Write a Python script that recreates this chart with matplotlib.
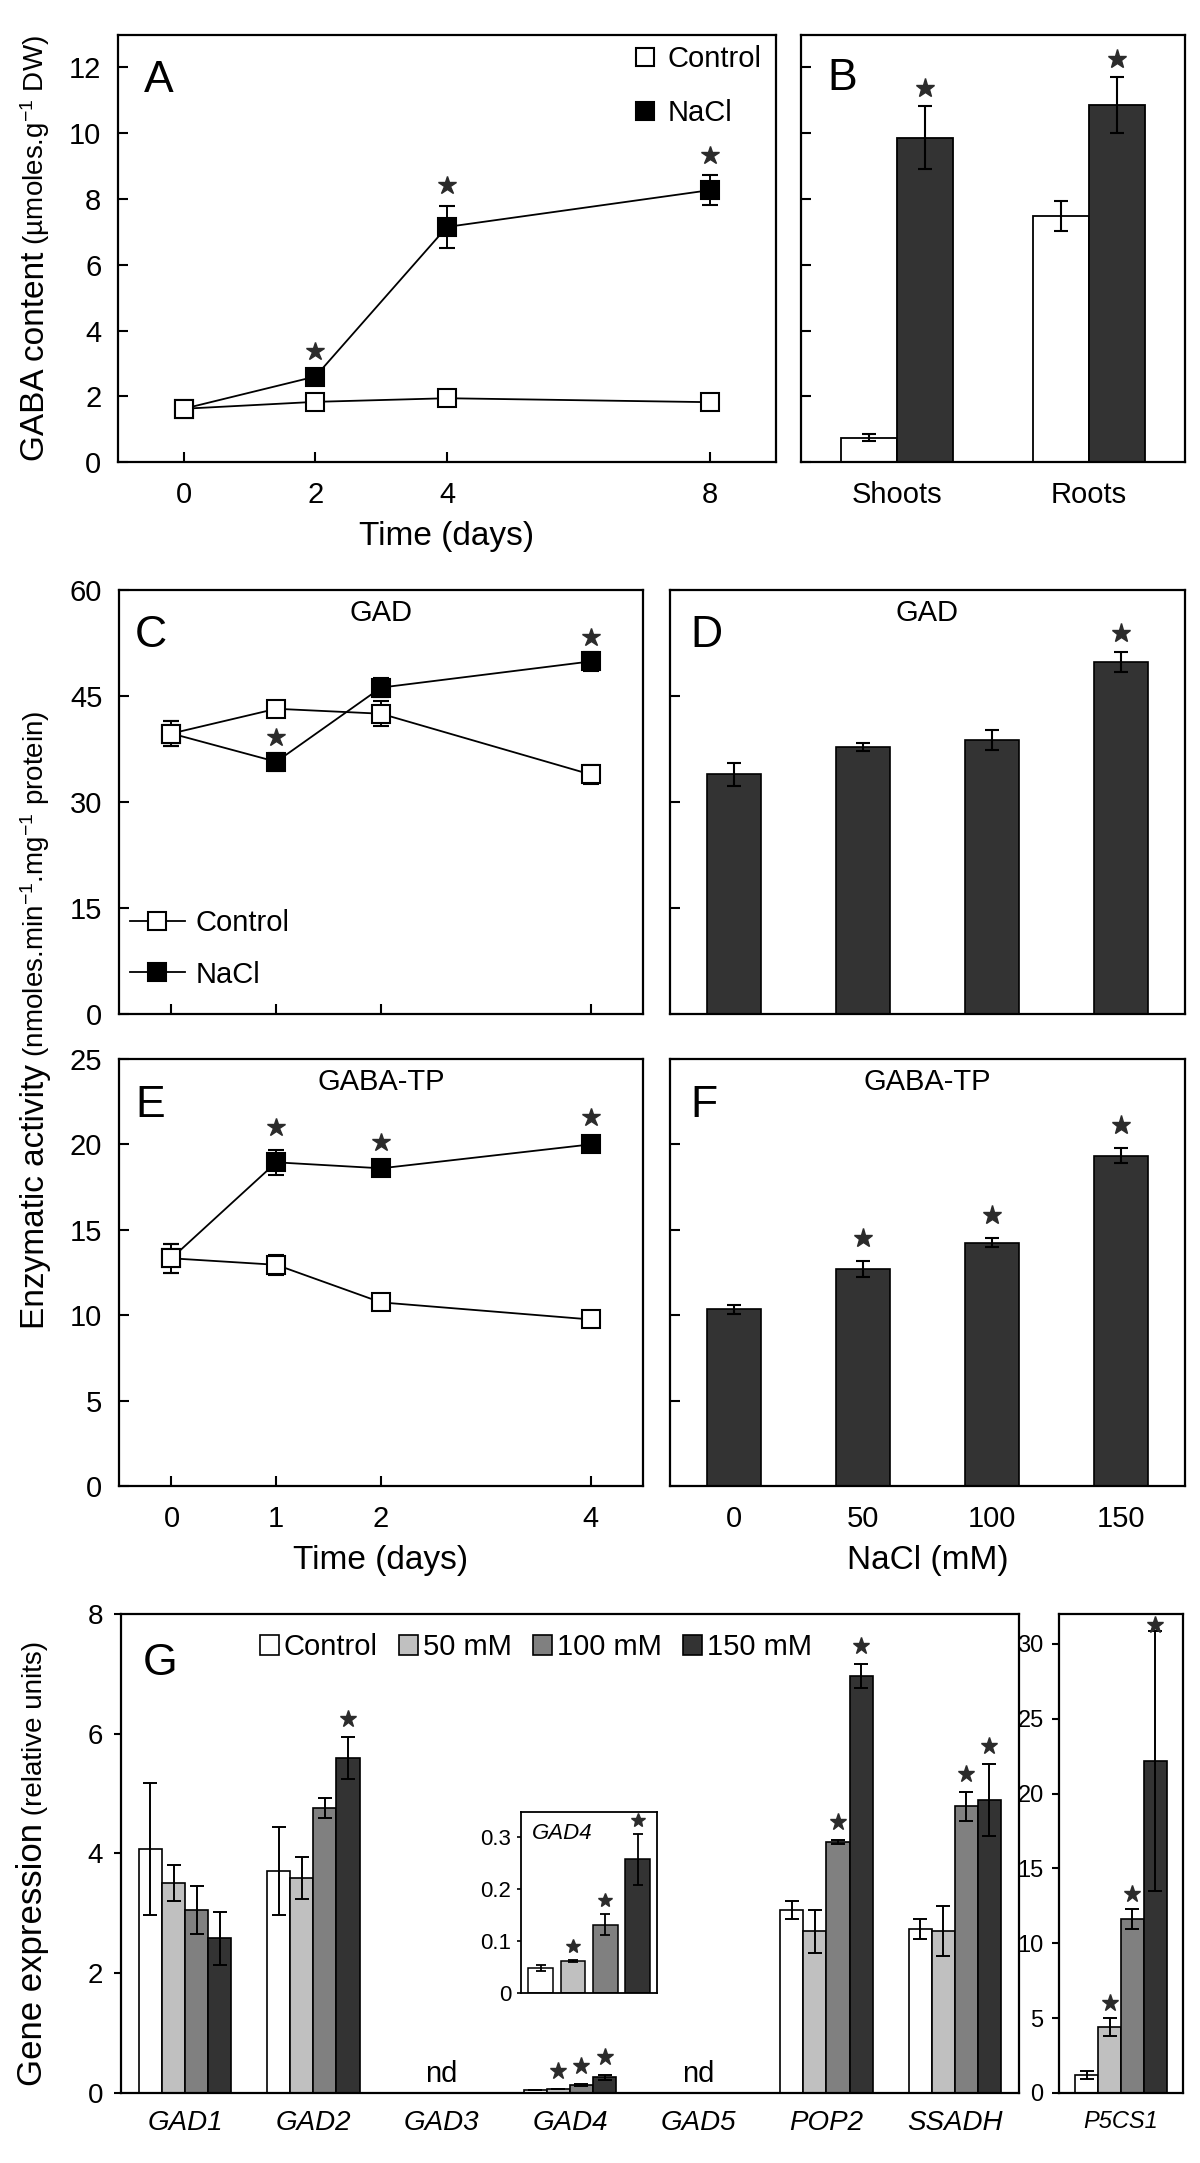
import numpy as np
import matplotlib
matplotlib.use("Agg")
import matplotlib.pyplot as plt
from matplotlib.lines import Line2D
from matplotlib.patches import Patch

plt.rcParams['font.family'] = ['Liberation Sans', 'DejaVu Sans']
plt.rcParams['mathtext.fontset'] = 'custom'
plt.rcParams['mathtext.rm'] = 'Liberation Sans'
plt.rcParams['mathtext.it'] = 'Liberation Sans:italic'
plt.rcParams['axes.linewidth'] = 1.5

# ---------------- data ----------------
# Panel A: GABA content over time
days_A = [0, 2, 4, 8]
gaba_ctrl = [1.62, 1.83, 1.94, 1.82]
gaba_ctrl_err = [0.10, 0.12, 0.12, 0.10]
gaba_nacl = [1.62, 2.60, 7.15, 8.27]
gaba_nacl_err = [0.10, 0.15, 0.65, 0.45]
sig_A = [False, True, True, True]

# Panel B: shoots / roots
organs = ["Shoots", "Roots"]
b_ctrl = [0.74, 7.48]
b_ctrl_err = [0.10, 0.45]
b_nacl = [9.87, 10.87]
b_nacl_err = [0.95, 0.85]
sig_B = [True, True]

# Panel C: GAD activity over time
days_CE = [0, 1, 2, 4]
gad_ctrl = [39.7, 43.2, 42.5, 33.9]
gad_ctrl_err = [1.8, 0.5, 1.8, 1.4]
gad_nacl = [39.7, 35.7, 46.2, 49.9]
gad_nacl_err = [1.8, 1.3, 1.4, 1.3]
sig_C = [False, True, False, True]

# Panel D: GAD activity vs NaCl dose
nacl_conc = ["0", "50", "100", "150"]
gad_dose = [33.9, 37.8, 38.8, 49.8]
gad_dose_err = [1.6, 0.6, 1.4, 1.4]
sig_D = [False, False, False, True]

# Panel E: GABA-TP activity over time
gabatp_ctrl = [13.33, 12.95, 10.75, 9.75]
gabatp_ctrl_err = [0.85, 0.6, 0.2, 0.15]
gabatp_nacl = [13.33, 18.95, 18.6, 20.0]
gabatp_nacl_err = [0.85, 0.75, 0.25, 0.3]
sig_E = [False, True, True, True]

# Panel F: GABA-TP activity vs NaCl dose
gabatp_dose = [10.35, 12.7, 14.25, 19.35]
gabatp_dose_err = [0.27, 0.45, 0.25, 0.42]
sig_F = [False, True, True, True]

# Panel G: gene expression
genes = ["GAD1", "GAD2", "GAD3", "GAD4", "GAD5", "POP2", "SSADH"]
nan = np.nan
expr_ctrl = [4.07, 3.71, nan, 0.048, nan, 3.05, 2.74]
expr_ctrl_err = [1.10, 0.73, nan, 0.005, nan, 0.15, 0.17]
expr_50 = [3.50, 3.59, nan, 0.061, nan, 2.70, 2.70]
expr_50_err = [0.30, 0.35, nan, 0.002, nan, 0.36, 0.42]
expr_100 = [3.06, 4.76, nan, 0.132, nan, 4.19, 4.79]
expr_100_err = [0.40, 0.16, nan, 0.020, nan, 0.04, 0.24]
expr_150 = [2.58, 5.60, nan, 0.258, nan, 6.97, 4.89]
expr_150_err = [0.44, 0.35, nan, 0.049, nan, 0.20, 0.60]
sig_50 = [False, False, False, True, False, False, False]
sig_100 = [False, False, False, True, False, True, True]
sig_150 = [False, True, False, True, False, True, True]
not_detected = ["GAD3", "GAD5"]

# P5CS1
p5cs1 = [1.19, 4.42, 11.61, 22.16]
p5cs1_err = [0.25, 0.60, 0.68, 8.70]
sig_P5 = [False, True, True, True]

series_labels = ["Control", "50 mM", "100 mM", "150 mM"]
series_colors = ["white", "#c0c0c0", "#808080", "#333333"]

# ---------------- styling helpers ----------------
TICK = 21
LAB = 24
LET = 32
STAR = '#2b2b2b'

fig = plt.figure(figsize=(12, 21.63), dpi=100)


def frame(ax, tick_dir='in', ylen=7, xlen=7, ypad=12, xpad=14, size=TICK):
    for s in ax.spines.values():
        s.set_linewidth(1.6)
    ax.tick_params(axis='y', direction=tick_dir, length=ylen, width=1.5,
                   pad=ypad, labelsize=size)
    ax.tick_params(axis='x', direction='in', length=xlen, width=1.5,
                   pad=xpad, labelsize=size)


def stars(ax, xs, tops, errs, sig, offset, ms=12, cap=None):
    for x, t, e, s in zip(xs, tops, errs, sig):
        if s:
            y = t + e + offset
            if cap is not None:
                y = min(y, cap)
            ax.plot(x, y, marker='*', ms=ms, color=STAR, mec=STAR,
                    ls='none', clip_on=False, zorder=6)


def line_panel(ax, x, c, ce, n, ne):
    ax.errorbar(x, n, yerr=ne, color='black', lw=1.3, marker='s', ms=12.5,
                mfc='black', mec='black', mew=1.5, capsize=6, elinewidth=1.4,
                capthick=1.4, zorder=3)
    ax.errorbar(x, c, yerr=ce, color='black', lw=1.3, marker='s', ms=12.5,
                mfc='white', mec='black', mew=1.5, capsize=6, elinewidth=1.4,
                capthick=1.4, zorder=4)


# ---------------- Panel A ----------------
axA = fig.add_axes([0.0983, 0.7864, 0.5483, 0.1976])
line_panel(axA, days_A, gaba_ctrl, gaba_ctrl_err, gaba_nacl, gaba_nacl_err)
stars(axA, days_A, gaba_nacl, gaba_nacl_err, sig_A, 0.62, ms=13.5)
axA.set_xlim(-1, 9)
axA.set_ylim(0, 13)
axA.set_xticks(days_A)
axA.set_xticklabels([str(d) for d in days_A])
axA.set_yticks(range(0, 13, 2))
frame(axA)
axA.set_xlabel("Time (days)", fontsize=LAB, labelpad=8)
axA.text(0.039, 0.865, "A", transform=axA.transAxes, fontsize=LET)
hA = [Line2D([], [], marker='s', ms=13, mfc='white', mec='black', mew=1.5, ls='none'),
      Line2D([], [], marker='s', ms=13, mfc='black', mec='black', mew=1.5, ls='none')]
axA.legend(hA, ["Control", "NaCl"], loc='upper left', bbox_to_anchor=(0.775, 0.99),
           frameon=False, fontsize=TICK, handlelength=0.8, handletextpad=0.35,
           labelspacing=0.9, borderpad=0.2, borderaxespad=0)

# ---------------- Panel B ----------------
axB = fig.add_axes([0.6675, 0.7864, 0.32, 0.1976])
xb = np.arange(len(organs))
wB = 0.29
axB.bar(xb - wB / 2, b_ctrl, wB, yerr=b_ctrl_err, color='white', edgecolor='black',
        lw=1.3, capsize=5, error_kw=dict(elinewidth=1.5, capthick=1.5))
axB.bar(xb + wB / 2, b_nacl, wB, yerr=b_nacl_err, color='#333333', edgecolor='black',
        lw=1.3, capsize=5, error_kw=dict(elinewidth=1.5, capthick=1.5))
stars(axB, xb + wB / 2, b_nacl, b_nacl_err, sig_B, 0.55, ms=14)
axB.set_xlim(-0.5, 1.5)
axB.set_ylim(0, 13)
axB.set_yticks(range(0, 13, 2))
axB.set_yticklabels([])
axB.set_xticks(xb)
axB.set_xticklabels(organs)
frame(axB, xlen=0)
axB.text(0.068, 0.87, "B", transform=axB.transAxes, fontsize=LET)

# ---------------- Panel C ----------------
axC = fig.add_axes([0.0992, 0.5312, 0.4367, 0.196])
line_panel(axC, days_CE, gad_ctrl, gad_ctrl_err, gad_nacl, gad_nacl_err)
stars(axC, days_CE, gad_nacl, gad_nacl_err, sig_C, 2.2, ms=13.5)
axC.set_xlim(-0.5, 4.5)
axC.set_ylim(0, 60)
axC.set_xticks(days_CE)
axC.set_xticklabels([])
axC.set_yticks([0, 15, 30, 45, 60])
frame(axC)
axC.text(0.03, 0.866, "C", transform=axC.transAxes, fontsize=LET)
axC.text(0.5, 0.928, "GAD", transform=axC.transAxes, fontsize=TICK, ha='center')
hC = [Line2D([], [], color='black', lw=1.3, marker='s', ms=12.5, mfc='white', mec='black', mew=1.5),
      Line2D([], [], color='black', lw=1.3, marker='s', ms=12.5, mfc='black', mec='black', mew=1.5)]
axC.legend(hC, ["Control", "NaCl"], loc='lower left', bbox_to_anchor=(0.02, 0.06),
           frameon=False, fontsize=TICK, handlelength=1.9, handletextpad=0.35,
           labelspacing=0.8, borderpad=0, borderaxespad=0)

# ---------------- Panel D ----------------
axD = fig.add_axes([0.5583, 0.5312, 0.4292, 0.196])
xd = np.arange(len(nacl_conc))
axD.bar(xd, gad_dose, 0.42, yerr=gad_dose_err, color='#333333', edgecolor='black',
        lw=1.2, capsize=5, error_kw=dict(elinewidth=1.5, capthick=1.5))
stars(axD, xd, gad_dose, gad_dose_err, sig_D, 2.7, ms=14)
axD.set_xlim(-0.5, 3.5)
axD.set_ylim(0, 60)
axD.set_yticks([0, 15, 30, 45, 60])
axD.set_yticklabels([])
axD.set_xticks(xd)
axD.set_xticklabels([])
frame(axD, xlen=0)
axD.text(0.04, 0.866, "D", transform=axD.transAxes, fontsize=LET)
axD.text(0.5, 0.927, "GAD", transform=axD.transAxes, fontsize=TICK, ha='center')

# ---------------- Panel E ----------------
axE = fig.add_axes([0.0992, 0.313, 0.4367, 0.1974])
line_panel(axE, days_CE, gabatp_ctrl, gabatp_ctrl_err, gabatp_nacl, gabatp_nacl_err)
stars(axE, days_CE, gabatp_nacl, gabatp_nacl_err, sig_E, 1.3, ms=13.5)
axE.set_xlim(-0.5, 4.5)
axE.set_ylim(0, 25)
axE.set_xticks(days_CE)
axE.set_xticklabels([str(d) for d in days_CE])
axE.set_yticks(range(0, 26, 5))
frame(axE)
axE.set_xlabel("Time (days)", fontsize=LAB, labelpad=8)
axE.text(0.032, 0.864, "E", transform=axE.transAxes, fontsize=LET)
axE.text(0.5, 0.927, "GABA-TP", transform=axE.transAxes, fontsize=TICK, ha='center')

# ---------------- Panel F ----------------
axF = fig.add_axes([0.5583, 0.313, 0.4292, 0.1974])
axF.bar(xd, gabatp_dose, 0.42, yerr=gabatp_dose_err, color='#333333', edgecolor='black',
        lw=1.2, capsize=5, error_kw=dict(elinewidth=1.5, capthick=1.5))
stars(axF, xd, gabatp_dose, gabatp_dose_err, sig_F, 1.35, ms=14)
axF.set_xlim(-0.5, 3.5)
axF.set_ylim(0, 25)
axF.set_yticks(range(0, 26, 5))
axF.set_yticklabels([])
axF.set_xticks(xd)
axF.set_xticklabels(nacl_conc)
frame(axF, xlen=0)
axF.set_xlabel("NaCl (mM)", fontsize=LAB, labelpad=8)
axF.text(0.04, 0.864, "F", transform=axF.transAxes, fontsize=LET)
axF.text(0.5, 0.927, "GABA-TP", transform=axF.transAxes, fontsize=TICK, ha='center')

# ---------------- Panel G ----------------
axG = fig.add_axes([0.1008, 0.0324, 0.7483, 0.2214])
xg = np.arange(len(genes))
wG = 0.18
allv = [expr_ctrl, expr_50, expr_100, expr_150]
alle = [expr_ctrl_err, expr_50_err, expr_100_err, expr_150_err]
sigs = [[False] * len(genes), sig_50, sig_100, sig_150]
for i, (v, e, c, s) in enumerate(zip(allv, alle, series_colors, sigs)):
    xs = xg + (i - 1.5) * wG
    axG.bar(xs, v, wG, yerr=e, color=c, edgecolor='black', lw=1.2, capsize=5,
            error_kw=dict(elinewidth=1.4, capthick=1.4))
    stars(axG, xs, np.nan_to_num(v), np.nan_to_num(e), s, 0.3, ms=12.5)
for g in not_detected:
    axG.text(genes.index(g), 0.32, "nd", ha='center', va='center', fontsize=21)
axG.set_xlim(-0.5, len(genes) - 0.5)
axG.set_ylim(0, 8)
axG.set_yticks([0, 2, 4, 6, 8])
axG.set_xticks(xg)
axG.set_xticklabels(genes, fontstyle='italic', fontsize=20)
frame(axG, tick_dir='out', ylen=5, xlen=0, ypad=8, xpad=12, size=20)
axG.text(0.024, 0.873, "G", transform=axG.transAxes, fontsize=LET)
hG = [Patch(facecolor=c, edgecolor='black', lw=1.2) for c in series_colors]
axG.legend(hG, series_labels, ncol=4, loc='center', bbox_to_anchor=(0.462, 0.931),
           frameon=False, fontsize=TICK, handlelength=0.65, handleheight=0.65,
           handletextpad=0.15, columnspacing=0.75, borderpad=0, borderaxespad=0)

# inset GAD4
gi = genes.index("GAD4")
ins = axG.inset_axes([2.62, 1.67, 1.06, 3.03], transform=axG.transData)
xi = np.arange(4)
ins_vals = [v[gi] for v in allv]
ins_errs = [e[gi] for e in alle]
ins_sig = [s[gi] for s in sigs]
ins.bar(xi, ins_vals, 0.76, yerr=ins_errs, color=series_colors, edgecolor='black',
        lw=1.1, capsize=3.5, error_kw=dict(elinewidth=1.3, capthick=1.3))
stars(ins, xi, ins_vals, ins_errs, ins_sig, 0.027, ms=10)
ins.set_xlim(-0.6, 3.6)
ins.set_ylim(0, 0.35)
ins.set_yticks([0, 0.1, 0.2, 0.3])
ins.set_yticklabels(["0", "0.1", "0.2", "0.3"])
ins.set_xticks([])
for s in ins.spines.values():
    s.set_linewidth(1.3)
ins.tick_params(axis='y', direction='out', length=3, width=1.2, pad=4, labelsize=16)
ins.text(0.08, 0.88, "GAD4", transform=ins.transAxes, fontsize=16, fontstyle='italic',
         va='center')

# P5CS1
axP = fig.add_axes([0.8825, 0.0324, 0.1033, 0.2214])
xp = (np.arange(4) - 1.5) * 0.185
axP.bar(xp, p5cs1, 0.185, yerr=p5cs1_err, color=series_colors, edgecolor='black',
        lw=1.2, capsize=5, error_kw=dict(elinewidth=1.4, capthick=1.4))
stars(axP, xp, p5cs1, p5cs1_err, sig_P5, 1.0, ms=12.5, cap=31.3)
axP.set_xlim(-0.5, 0.5)
axP.set_ylim(0, 32)
axP.set_yticks(range(0, 31, 5))
axP.set_xticks([0])
axP.set_xticklabels(["P5CS1"], fontstyle='italic', fontsize=20)
frame(axP, tick_dir='out', ylen=5, xlen=0, ypad=6, xpad=12, size=17)


# ---------------- composite y labels ----------------
def ylabel_parts(x_frac, y_center_frac, parts):
    renderer = fig.canvas.get_renderer()
    objs = []
    lens = []
    for txt, size in parts:
        t = fig.text(0, 0, txt, fontsize=size, rotation=90, rotation_mode='anchor',
                     ha='left', va='baseline')
        lens.append(t.get_window_extent(renderer).height)
        objs.append(t)
    H = fig.bbox.height
    total = sum(lens)
    y = y_center_frac * H - total / 2
    for t, L in zip(objs, lens):
        t.set_position((x_frac, y / H))
        y += L


ylabel_parts(0.037, 0.8852, [("GABA content", 24),
                             (r" (µmoles.g$^{-1}$ DW)", 20)])
ylabel_parts(0.037, 0.5284, [("Enzymatic activity", 24),
                             (r" (nmoles.min$^{-1}$.mg$^{-1}$ protein)", 20)])
ylabel_parts(0.035, 0.1387, [("Gene expression", 25),
                             (" (relative units)", 20)])

fig.savefig("out.png", dpi=100)
